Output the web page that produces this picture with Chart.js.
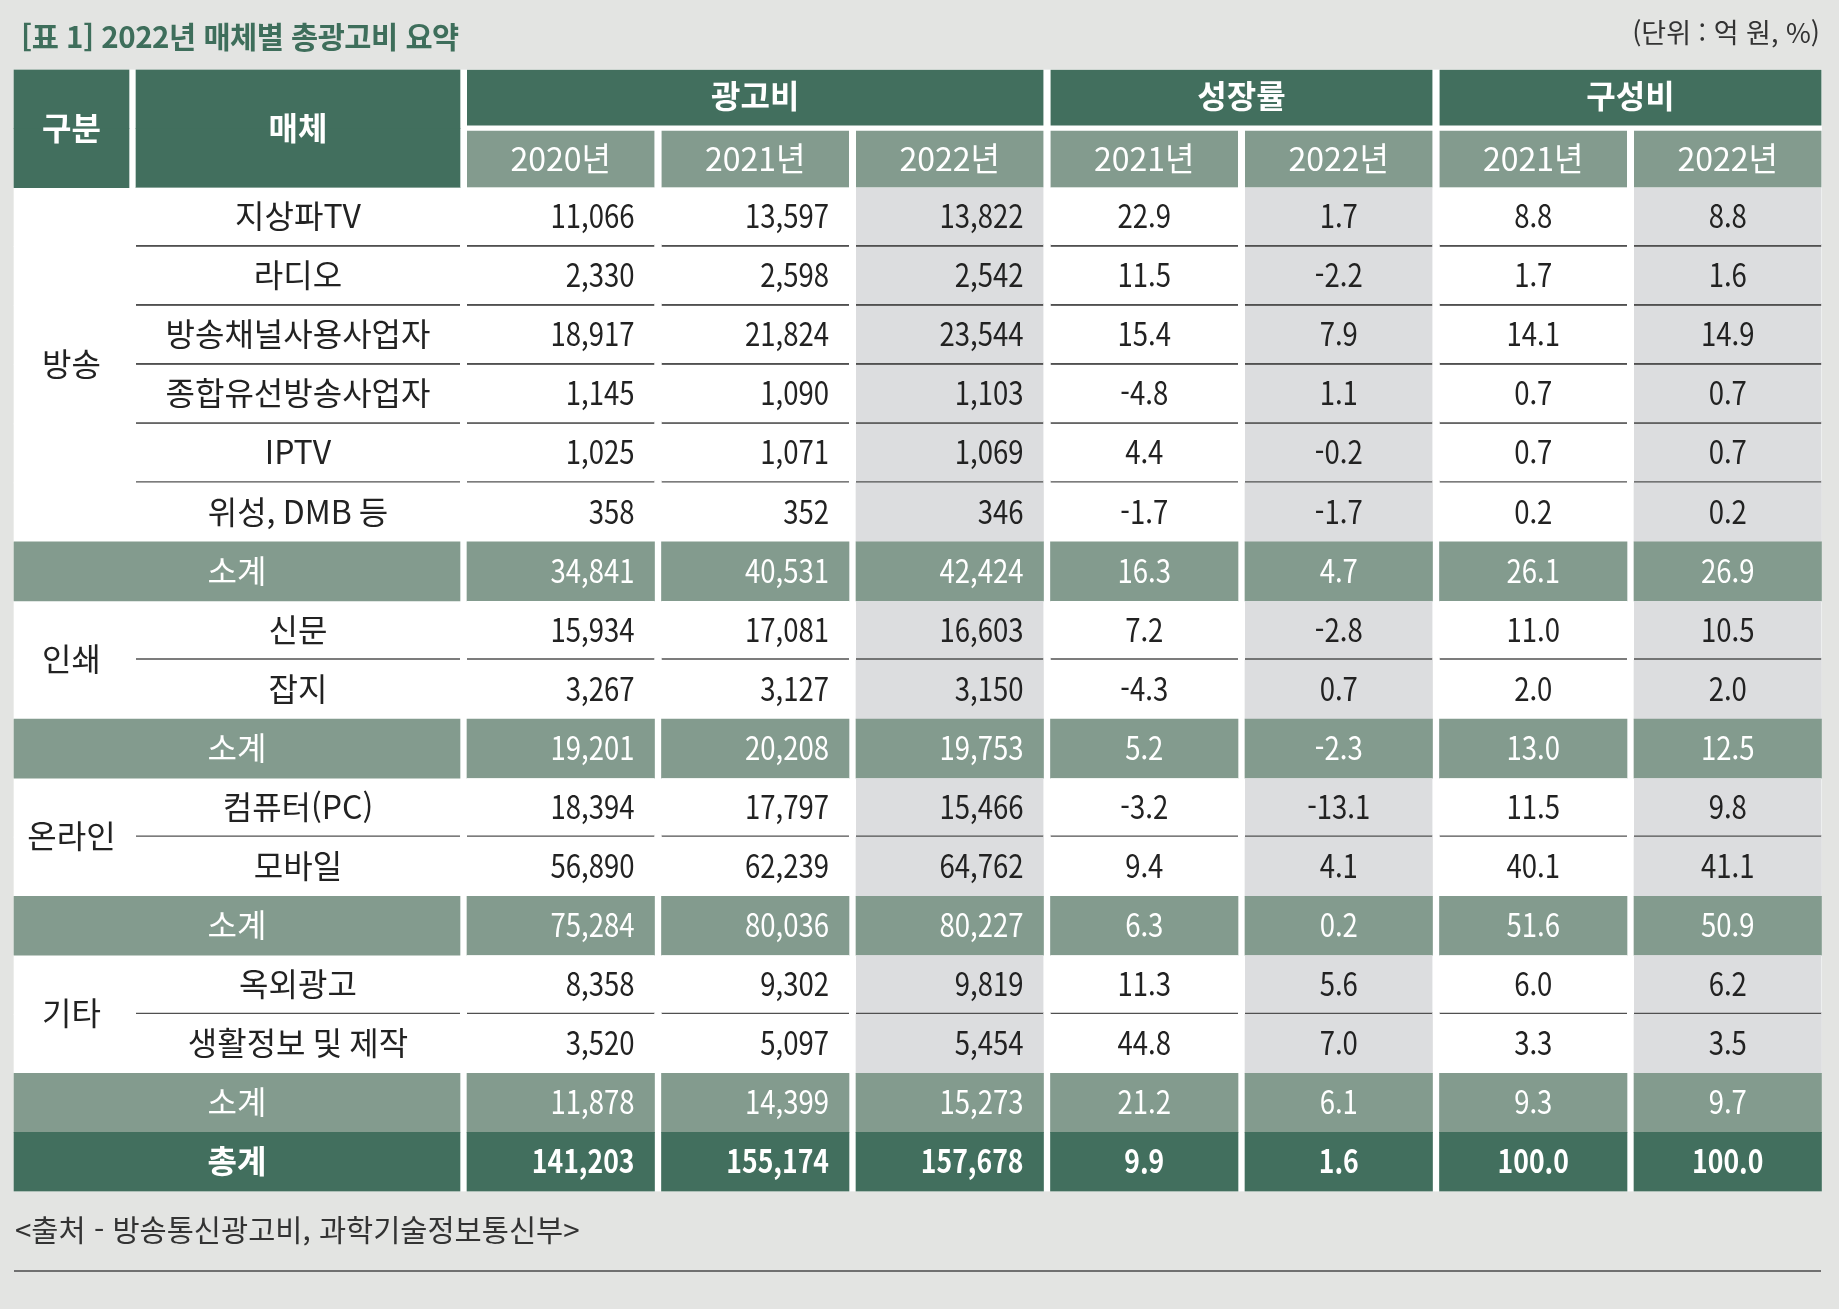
<!DOCTYPE html>
<html lang="ko">
<head>
<meta charset="utf-8">
<script src="https://cdn.jsdelivr.net/npm/chart.js@4.4.1/dist/chart.umd.min.js"></script>
<style>
html,body{margin:0;padding:0;background:#e3e4e2;}
#wrap{position:relative;width:1839px;height:1309px;overflow:hidden;background:#e3e4e2;}
#c{position:absolute;left:0;top:0;}
.t{position:absolute;white-space:nowrap;line-height:1;font-family:"Noto Sans CJK KR","Noto Sans",sans-serif;transform:translateY(-50%);}
#title{left:21px;top:36px;font-size:29.5px;font-weight:700;color:#3e6e5b;letter-spacing:-0.5px;}
#unit{right:19px;top:31px;font-size:27px;color:#333;}
#source{left:15px;top:1229px;font-size:29.5px;color:#333;}
#rule{position:absolute;left:14px;width:1807px;top:1270px;height:2px;background:#707070;}
</style>
</head>
<body>
<div id="wrap">
<canvas id="c" width="1839" height="1309"></canvas>
<div class="t" id="title"></div>
<div class="t" id="unit"></div>
<div class="t" id="source"></div>
<div id="rule"></div>
</div>
<script>
// ---------- data ----------
const titleText = '[표 1] 2022년 매체별 총광고비 요약';
const unitText = '(단위 : 억 원, %)';
const sourceText = '<출처 - 방송통신광고비, 과학기술정보통신부>';

const headerFixed = ['구분', '매체'];
const headerGroups = ['광고비', '성장률', '구성비'];
const yearLabels = ['2020년', '2021년', '2022년', '2021년', '2022년', '2021년', '2022년'];

const categories = ['방송', '인쇄', '온라인', '기타'];
const media = ['지상파TV', '라디오', '방송채널사용사업자', '종합유선방송사업자', 'IPTV', '위성, DMB 등', '소계',
               '신문', '잡지', '소계',
               '컴퓨터(PC)', '모바일', '소계',
               '옥외광고', '생활정보 및 제작', '소계',
               '총계'];
const rowKind = ['item','item','item','item','item','item','sub',
                 'item','item','sub',
                 'item','item','sub',
                 'item','item','sub',
                 'total'];
const rowCategory = [0,0,0,0,0,0,0, 1,1,1, 2,2,2, 3,3,3, -1];

const adSpend2020 = [11066, 2330, 18917, 1145, 1025, 358, 34841, 15934, 3267, 19201, 18394, 56890, 75284, 8358, 3520, 11878, 141203];
const adSpend2021 = [13597, 2598, 21824, 1090, 1071, 352, 40531, 17081, 3127, 20208, 17797, 62239, 80036, 9302, 5097, 14399, 155174];
const adSpend2022 = [13822, 2542, 23544, 1103, 1069, 346, 42424, 16603, 3150, 19753, 15466, 64762, 80227, 9819, 5454, 15273, 157678];
const growth2021 = [22.9, 11.5, 15.4, -4.8, 4.4, -1.7, 16.3, 7.2, -4.3, 5.2, -3.2, 9.4, 6.3, 11.3, 44.8, 21.2, 9.9];
const growth2022 = [1.7, -2.2, 7.9, 1.1, -0.2, -1.7, 4.7, -2.8, 0.7, -2.3, -13.1, 4.1, 0.2, 5.6, 7.0, 6.1, 1.6];
const share2021 = [8.8, 1.7, 14.1, 0.7, 0.7, 0.2, 26.1, 11.0, 2.0, 13.0, 11.5, 40.1, 51.6, 6.0, 3.3, 9.3, 100.0];
const share2022 = [8.8, 1.6, 14.9, 0.7, 0.7, 0.2, 26.9, 10.5, 2.0, 12.5, 9.8, 41.1, 50.9, 6.2, 3.5, 9.7, 100.0];

// ---------- layout / style ----------
const valueSeries = [adSpend2020, adSpend2021, adSpend2022, growth2021, growth2022, share2021, share2022];
const PAGE_W = 1839, PAGE_H = 1309;
const TABLE_TOP = 69.5, TABLE_BOTTOM = 1191.5;
const TABLE_LEFT = 14, GAP = 7;
const colWidths = [115, 324, 187.5, 187.5, 187.5, 187.5, 187.5, 187.5, 187.5];
const L = [], R = [];
{ let cur = TABLE_LEFT; colWidths.forEach((w, i) => { L.push(cur); R.push(cur + w); cur += w + GAP; }); }
const TABLE_RIGHT = R[R.length - 1];
const groupSpans = [[2, 4], [5, 6], [7, 8]];
const shadedCols = [4, 6, 8];
const rightAlignedCols = [2, 3, 4];

const DARK = '#426f5e', MID = '#839b8e', SHADE = '#dcdddf', WHITE = '#ffffff', LINE = '#505050';
const FONT = '"Noto Sans CJK KR","Noto Sans",sans-serif';
const TEXT = '#222222';
const SIZE = 32;
const NUM_SX = 0.86;

const NROWS = 2 + media.length;
const rowLabels = ['header', 'years'].concat(media);

function kindOf(row) { return row < 2 ? 'head' : rowKind[row - 2]; }
function hasLine(row) {
  if (kindOf(row) !== 'item') return false;
  const next = row + 1 < NROWS ? kindOf(row + 1) : null;
  return next === 'item';
}
function cellRange(row, col) {
  if (row === 0) {
    if (col < 2) return [L[col], R[col]];
    const span = groupSpans.find(s => s[0] === col);
    return span ? [L[span[0]], R[span[1]]] : null;
  }
  if (row === 1) return [L[col], R[col]];
  const k = kindOf(row);
  if (k === 'item') return col === 0 ? null : [L[col], R[col]];
  if (col === 0) return [L[0], R[1]];
  if (col === 1) return null;
  return [L[col], R[col]];
}
function cellColor(row, col) {
  if (row === 0) return DARK;
  if (row === 1) return col < 2 ? DARK : MID;
  const k = kindOf(row);
  if (k === 'sub') return MID;
  if (k === 'total') return DARK;
  return shadedCols.includes(col) ? SHADE : WHITE;
}
function cellBorder(row, col) {
  if (row === 0 && col >= 2) return { top: 0, right: 0, bottom: 3.5, left: 0 };
  if (row === 1 && col >= 2) return { top: 2.5, right: 0, bottom: 0, left: 0 };
  if (hasLine(row)) return { top: 0, right: 0, bottom: 2, left: 0 };
  return 0;
}
function cellBorderColor(row) { return row < 2 ? WHITE : LINE; }

const datasets = [];
for (let col = 0; col < colWidths.length; col++) {
  datasets.push({
    label: 'col' + col,
    data: rowLabels.map((_, row) => cellRange(row, col)),
    backgroundColor: ctx => cellColor(ctx.dataIndex, col),
    borderColor: ctx => cellBorderColor(ctx.dataIndex),
    borderWidth: ctx => cellBorder(ctx.dataIndex, col),
    borderSkipped: false,
    grouped: false,
    barPercentage: 1,
    categoryPercentage: 1,
    order: 1
  });
}
datasets.push({
  label: 'tableBackground',
  data: rowLabels.map(() => [TABLE_LEFT, TABLE_RIGHT]),
  backgroundColor: WHITE,
  borderWidth: 0,
  grouped: false,
  barPercentage: 1,
  categoryPercentage: 1,
  order: 5
});

function fmtValue(seriesIdx, v) {
  if (seriesIdx < 3) return v.toLocaleString('en-US');
  return v.toFixed(1);
}

function drawText(ctx, str, x, y, align, opts) {
  ctx.save();
  ctx.font = (opts.weight || 400) + ' ' + opts.size + 'px ' + FONT;
  ctx.fillStyle = opts.color;
  ctx.textAlign = align;
  ctx.textBaseline = 'middle';
  ctx.translate(x, y + (opts.dy || 0));
  ctx.scale(opts.sx || 1, 1);
  ctx.fillText(str, 0, 0);
  ctx.restore();
}

const VOFF = -1;
const cellText = {
  id: 'cellText',
  afterDatasetsDraw(chart) {
    const ctx = chart.ctx;
    const xs = chart.scales.x, ys = chart.scales.y;
    const px = v => xs.getPixelForValue(v);
    const py = r => ys.getPixelForValue(r);
    const ctr = (a, b) => (px(L[a]) + px(R[b])) / 2;
    const headMidY = (py(0) + py(1)) / 2;
    headerFixed.forEach((t, c) => drawText(ctx, t, ctr(c, c), headMidY + VOFF, 'center', { size: SIZE, weight: 700, color: '#fff' }));
    headerGroups.forEach((t, i) => {
      const s = groupSpans[i];
      drawText(ctx, t, ctr(s[0], s[1]), py(0) - 3.5 / 2 + VOFF, 'center', { size: SIZE, weight: 700, color: '#fff' });
    });
    yearLabels.forEach((t, i) => drawText(ctx, t, ctr(i + 2, i + 2), py(1) + 1.25 + VOFF, 'center', { size: 33, weight: 400, color: '#fff', sx: 0.97 }));
    categories.forEach((t, g) => {
      const rows = [];
      rowCategory.forEach((cg, i) => { if (cg === g && rowKind[i] === 'item') rows.push(i + 2); });
      const yc = (py(rows[0]) + py(rows[rows.length - 1])) / 2;
      drawText(ctx, t, ctr(0, 0), yc + VOFF, 'center', { size: SIZE, color: TEXT });
    });
    media.forEach((name, i) => {
      const row = i + 2;
      const k = rowKind[i];
      const yc = py(row) + VOFF;
      const color = k === 'item' ? TEXT : '#fff';
      const weight = k === 'total' ? 700 : 400;
      if (k === 'item') drawText(ctx, name, ctr(1, 1), yc, 'center', { size: SIZE, color, weight });
      else drawText(ctx, name, ctr(0, 1), yc, 'center', { size: SIZE, color, weight });
      valueSeries.forEach((series, s) => {
        const col = s + 2;
        const str = fmtValue(s, series[i]);
        const sx = weight === 700 ? 0.83 : NUM_SX;
        if (rightAlignedCols.includes(col)) {
          drawText(ctx, str, px(R[col]) - 20, yc, 'right', { size: SIZE, color, weight, sx });
        } else {
          drawText(ctx, str, ctr(col, col), yc, 'center', { size: SIZE, color, weight, sx });
        }
      });
    });
  }
};

document.getElementById('title').textContent = titleText;
document.getElementById('unit').textContent = unitText;
document.getElementById('source').textContent = sourceText;

new Chart(document.getElementById('c'), {
  type: 'bar',
  data: { labels: rowLabels, datasets },
  options: {
    indexAxis: 'y',
    responsive: false,
    maintainAspectRatio: false,
    animation: false,
    events: [],
    layout: { padding: { top: TABLE_TOP, bottom: PAGE_H - TABLE_BOTTOM, left: 0, right: 0 } },
    scales: {
      x: { type: 'linear', min: 0, max: PAGE_W, display: false },
      y: { type: 'category', display: false, offset: true }
    },
    plugins: { legend: { display: false }, tooltip: { enabled: false }, title: { display: false } }
  },
  plugins: [cellText]
});
</script>
</body>
</html>
